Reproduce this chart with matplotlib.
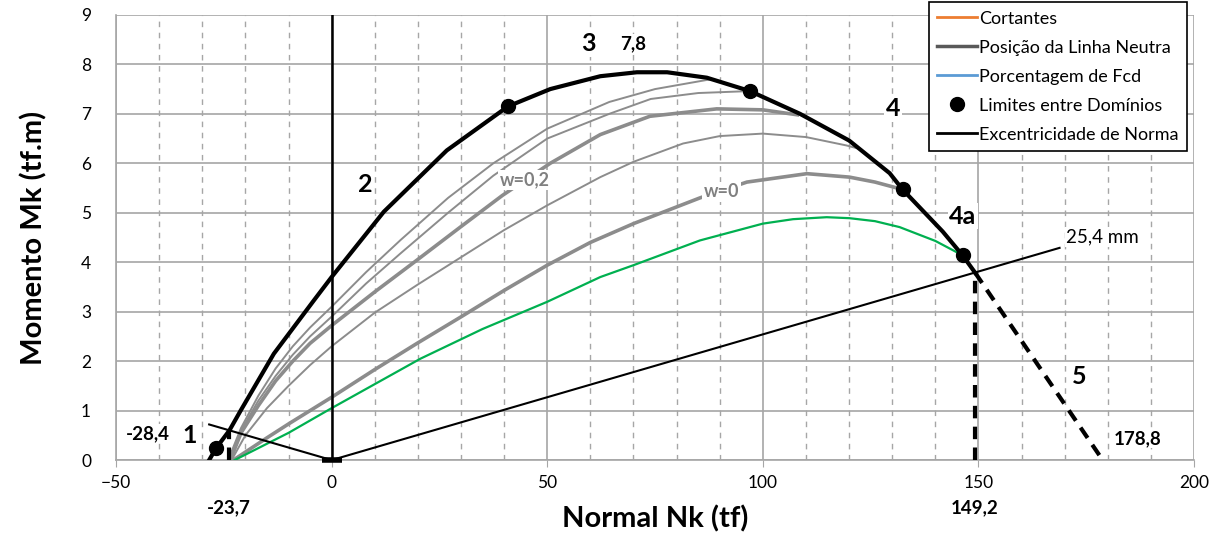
import matplotlib.pyplot as plt
from matplotlib.lines import Line2D

plt.rcParams['font.family'] = ['Lato', 'DejaVu Sans']

# Envoltória (domínios 1 a 4a)
env_N = [-28.4, -26.8, -23.7, -21.1, -13.4, -4.1, 0, 12.1, 26.7, 40.9, 50.7, 62.3,
         70.8, 77.8, 87, 97, 108.6, 120, 129.4, 132.4, 141.7, 146.3, 149.2]
env_M = [0, 0.24, 0.6, 1.0, 2.15, 3.23, 3.7, 5.02, 6.26, 7.15, 7.5, 7.76,
         7.84, 7.84, 7.73, 7.46, 7.0, 6.46, 5.8, 5.47, 4.62, 4.14, 3.79]

# Domínio 5 e verticais tracejadas
d5_N = [149.2, 178.8]
d5_M = [3.79, 0]
v1_N = [-23.7, -23.7]
v1_M = [0, 0.6]
v2_N = [149.2, 149.2]
v2_M = [0, 3.79]

# Limites entre domínios
lim_N = [-26.8, 40.9, 97, 132.4, 146.3]
lim_M = [0.24, 7.15, 7.46, 5.47, 4.14]

# Curvas intermediárias (cinza)
g1_N = [-24, -21, -17, -13, -9, -5, 0, 8, 16, 27, 37.5, 50, 64.4, 75, 88]
g1_M = [0, 0.65, 1.3, 1.85, 2.3, 2.68, 3.1, 3.8, 4.45, 5.3, 6.0, 6.7, 7.24, 7.5, 7.7]

g2_N = [-23.7, -21, -17, -13, -9, -5, 0, 8, 16, 27, 37.5, 50, 64.4, 74, 85, 97]
g2_M = [0, 0.6, 1.2, 1.7, 2.13, 2.5, 2.9, 3.57, 4.18, 5.0, 5.75, 6.5, 7.0, 7.3, 7.42, 7.46]

g3_N = [-23.5, -21, -17, -13, -9, -5, 0, 10, 19.9, 30, 39.6, 50.7, 62.3, 73.8, 89.3, 100, 108]
g3_M = [0, 0.55, 1.1, 1.6, 2.0, 2.36, 2.72, 3.4, 4.05, 4.72, 5.35, 6.0, 6.58, 6.95, 7.1, 7.08, 6.98]

g4_N = [-23.2, -20, -15, -10, -5, 0, 10, 20, 30, 40, 50, 62.3, 70, 81.5, 90, 100, 110, 119.4, 122]
g4_M = [0, 0.5, 1.05, 1.5, 1.92, 2.3, 2.98, 3.55, 4.1, 4.65, 5.15, 5.72, 6.03, 6.4, 6.55, 6.6, 6.53, 6.36, 6.3]

g5_N = [-22.8, -15, -10, -5, 0, 10, 20, 29.9, 40, 50, 60, 70, 85.4, 96.3, 110.2, 120.1, 126, 132.4]
g5_M = [0, 0.45, 0.73, 1.0, 1.27, 1.83, 2.37, 2.89, 3.43, 3.94, 4.4, 4.78, 5.3, 5.62, 5.79, 5.72, 5.62, 5.47]

# Curva verde
gr_N = [-22.5, -10, 0, 20.6, 35, 50, 62.3, 70, 85.4, 100, 107, 114.8, 120.1, 126, 131.7, 140, 146.3]
gr_M = [0, 0.55, 1.05, 2.05, 2.65, 3.2, 3.7, 3.94, 4.44, 4.78, 4.87, 4.91, 4.89, 4.83, 4.71, 4.43, 4.14]

# Excentricidade de norma (25,4 mm)
ecc_N = [-28.4, 0, 168.8]
ecc_M = [0.72, 0, 4.29]

cinza = '#8c8c8c'

fig, ax = plt.subplots(figsize=(12.16, 5.51), dpi=100)
fig.subplots_adjust(left=0.0954, right=0.982, top=0.973, bottom=0.165)

ax.set_xlim(-50, 200)
ax.set_ylim(0, 9)
ax.set_xticks(range(-50, 201, 50))
ax.set_xticks(range(-50, 201, 10), minor=True)
ax.set_yticks(range(0, 10))
ax.grid(which='major', color='#a6a6a6', lw=1.2)
ax.grid(which='minor', axis='x', color='#a6a6a6', lw=1, ls=(0, (4, 4)))
ax.set_axisbelow(True)
ax.tick_params(which='minor', length=0)
ax.tick_params(axis='x', which='major', length=5, color='#a6a6a6', labelsize=12.5, pad=6)
ax.tick_params(axis='y', length=0, labelsize=12.5, pad=18)
for s in ['top', 'right']:
    ax.spines[s].set_visible(False)
for s in ['left', 'bottom']:
    ax.spines[s].set_color('#a6a6a6')
    ax.spines[s].set_linewidth(1.2)

# curvas
for n, m, lw in [(g1_N, g1_M, 1.4), (g2_N, g2_M, 1.4), (g3_N, g3_M, 2.6),
                 (g4_N, g4_M, 1.4), (g5_N, g5_M, 2.6)]:
    ax.plot(n, m, color=cinza, lw=lw, zorder=3)
ax.plot(gr_N, gr_M, color='#00b050', lw=1.6, zorder=3)

ax.axvline(0, color='black', lw=1.8, zorder=4)
ax.plot(ecc_N, ecc_M, color='black', lw=1.5, zorder=4)
ax.plot([0], [0], marker='_', ms=14, mew=4, color='black', zorder=5, clip_on=False)

ax.plot(env_N, env_M, color='black', lw=3, zorder=5)
for n, m in [(d5_N, d5_M), (v1_N, v1_M), (v2_N, v2_M)]:
    ax.plot(n, m, color='black', lw=3, ls=(0, (3, 2)), zorder=5)
ax.plot(lim_N, lim_M, 'o', color='black', ms=10, zorder=6, clip_on=False)

# rótulos
caixa = dict(facecolor='white', edgecolor='none', pad=1)
grandes = [('1', -33, 0.5), ('2', 7.9, 5.57), ('3', 59.6, 8.42), ('4', 130.2, 7.1),
           ('4a', 146.4, 4.93), ('5', 173.4, 1.68)]
for t, x, y in grandes:
    ax.text(x, y, t, fontsize=18, fontweight='bold', ha='center', va='center',
            bbox=caixa, zorder=7)
valores = [('7,8', 69.8, 8.42), ('-28,4', -42.7, 0.54), ('178,8', 186.9, 0.44)]
for t, x, y in valores:
    ax.text(x, y, t, fontsize=13.5, fontweight='bold', ha='center', va='center',
            bbox=caixa, zorder=7)
for t, x in [('-23,7', -23.8), ('149,2', 149.1)]:
    ax.text(x, -0.96, t, fontsize=13.5, fontweight='bold', ha='center', va='center',
            clip_on=False)
ax.text(178.8, 4.51, '25,4 mm', fontsize=13.5, ha='center', va='center', bbox=caixa, zorder=7)
for t, x, y in [('w=0,2', 44.7, 5.66), ('w=0', 90.4, 5.42)]:
    ax.text(x, y, t, fontsize=13, fontweight='bold', color='#808080', ha='center',
            va='center', bbox=caixa, zorder=7)

ax.set_xlabel('Normal Nk (tf)', fontsize=21, fontweight='bold', labelpad=10)
ax.set_ylabel('Momento Mk (tf.m)', fontsize=21, fontweight='bold', labelpad=24)

handles = [
    Line2D([], [], color='#ed7d31', lw=2),
    Line2D([], [], color='#595959', lw=2.5),
    Line2D([], [], color='#5b9bd5', lw=2),
    Line2D([], [], color='black', marker='o', ls='none', ms=10),
    Line2D([], [], color='black', lw=2),
]
nomes = ['Cortantes', 'Posição da Linha Neutra', 'Porcentagem de Fcd',
         'Limites entre Domínios', 'Excentricidade de Norma']
leg = fig.legend(handles, nomes, loc='upper right', bbox_to_anchor=(1196 / 1216, 1.012),
                 fontsize=13, frameon=True, fancybox=False, edgecolor='black',
                 framealpha=1, handlelength=2.2, handletextpad=0.15, labelspacing=0.72,
                 borderpad=0.45)
leg.get_frame().set_linewidth(1.2)

fig.savefig('out.png', dpi=100)
